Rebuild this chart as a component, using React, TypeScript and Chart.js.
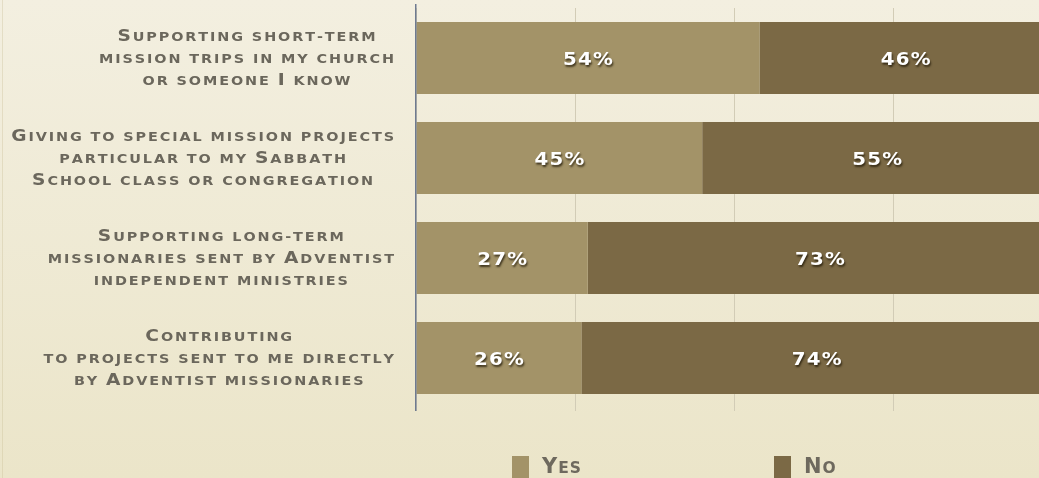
import { useEffect, useRef } from "react";
import { Chart, registerables } from "chart.js";

Chart.register(...registerables);

// ---- data ----
const categories: string[][] = [
  ["Supporting short-term", "mission trips in my church", "or someone I know"],
  ["Giving to special mission projects", "particular to my Sabbath", "School class or congregation"],
  ["Supporting long-term", "missionaries sent by Adventist", "independent ministries"],
  ["Contributing", "to projects sent to me directly", "by Adventist missionaries"],
];
const seriesNames = ["Yes", "No"];
const yesValues = [54, 45, 27, 26];
const noValues = [46, 55, 73, 74];
const xTickStep = 25;

// ---- style ----
const FAMILY = "'DejaVu Sans', 'Liberation Sans', sans-serif";
const YES_COLOR = "#a39368";
const NO_COLOR = "#7b6945";
const TEXT_GRAY = "#6b675c";

type Run = { ch: string; font: string };

function makeRuns(text: string, big: string, small: string): Run[] {
  const runs: Run[] = [];
  for (const ch of text) {
    const isBig = ch !== ch.toLowerCase();
    runs.push({ ch: ch.toUpperCase(), font: isBig ? big : small });
  }
  return runs;
}

function measureRuns(ctx: CanvasRenderingContext2D, runs: Run[], spacing: number, sx: number) {
  const widths: number[] = [];
  let total = 0;
  for (const r of runs) {
    ctx.font = r.font;
    const w = ctx.measureText(r.ch).width * sx;
    widths.push(w);
    total += w + spacing;
  }
  total -= spacing;
  return { widths, total };
}

function drawRuns(
  ctx: CanvasRenderingContext2D,
  runs: Run[],
  x: number,
  y: number,
  spacing: number,
  sx: number,
  align: "left" | "center"
) {
  const { widths, total } = measureRuns(ctx, runs, spacing, sx);
  let cx = align === "center" ? x - total / 2 : x;
  ctx.textAlign = "left";
  ctx.textBaseline = "alphabetic";
  runs.forEach((r, i) => {
    ctx.font = r.font;
    ctx.save();
    ctx.translate(cx, y);
    ctx.scale(sx, 1);
    ctx.fillText(r.ch, 0, 0);
    ctx.restore();
    cx += widths[i] + spacing;
  });
  return total;
}

const LABEL_BIG = `bold 15.5px ${FAMILY}`;
const LABEL_SMALL = `bold 12px ${FAMILY}`;
const LABEL_SPACING = 1.9;
const LABEL_SX = 1.2;
const LABEL_LINE = 22;
const LABEL_GAP = 22;

const backgroundPlugin = {
  id: "bgPlugin",
  beforeDraw(chart: any) {
    const { ctx, width, height } = chart;
    ctx.save();
    const g = ctx.createLinearGradient(0, 0, 0, height);
    g.addColorStop(0, "#f3efe0");
    g.addColorStop(1, "#ebe5c9");
    ctx.fillStyle = g;
    ctx.fillRect(0, 0, width, height);
    ctx.fillStyle = "rgba(200,190,150,0.35)";
    ctx.fillRect(2, 0, 1, height);
    ctx.restore();
  },
};

const yLabelPlugin = {
  id: "yLabels",
  afterDraw(chart: any) {
    const { ctx, chartArea } = chart;
    const yScale = chart.scales.y;
    ctx.save();
    ctx.fillStyle = TEXT_GRAY;
    categories.forEach((lines, i) => {
      const yc = yScale.getPixelForValue(i);
      const runsList = lines.map((l) => makeRuns(l, LABEL_BIG, LABEL_SMALL));
      const widest = Math.max(
        ...runsList.map((r) => measureRuns(ctx, r, LABEL_SPACING, LABEL_SX).total)
      );
      const cx = chartArea.left - LABEL_GAP - widest / 2;
      const n = lines.length;
      runsList.forEach((runs, j) => {
        const by = yc + 5 + (j - (n - 1) / 2) * LABEL_LINE;
        drawRuns(ctx, runs, cx, by, LABEL_SPACING, LABEL_SX, "center");
      });
    });
    ctx.restore();
  },
};

const valueLabelPlugin = {
  id: "valueLabels",
  afterDatasetsDraw(chart: any) {
    const { ctx } = chart;
    ctx.save();
    const font = `bold 18px ${FAMILY}`;
    chart.data.datasets.forEach((ds: any, di: number) => {
      const meta = chart.getDatasetMeta(di);
      meta.data.forEach((bar: any, i: number) => {
        const cx = (bar.x + bar.base) / 2;
        const cy = bar.y;
        const runs = makeRuns(`${ds.data[i]}%`, font, font);
        ctx.shadowColor = "rgba(30,22,5,0.75)";
        ctx.shadowOffsetX = 1;
        ctx.shadowOffsetY = 2;
        ctx.shadowBlur = 2;
        ctx.fillStyle = "#ffffff";
        drawRuns(ctx, runs, cx, cy + 7, 1.2, 1.1, "center");
      });
    });
    ctx.restore();
  },
};

const axisLinePlugin = {
  id: "axisLine",
  afterDatasetsDraw(chart: any) {
    const { ctx, chartArea } = chart;
    ctx.save();
    ctx.strokeStyle = "#6e7a90";
    ctx.lineWidth = 1.5;
    ctx.beginPath();
    ctx.moveTo(chartArea.left - 0.25, chartArea.top - 4);
    ctx.lineTo(chartArea.left - 0.25, chartArea.bottom + 3);
    ctx.stroke();
    ctx.restore();
  },
};

const LEGEND_OFFSETS = [96, 358];
const legendPlugin = {
  id: "customLegend",
  afterDraw(chart: any) {
    const { ctx, chartArea } = chart;
    ctx.save();
    const big = `bold 21px ${FAMILY}`;
    const small = `bold 15.5px ${FAMILY}`;
    chart.data.datasets.forEach((ds: any, i: number) => {
      const x = chartArea.left + LEGEND_OFFSETS[i];
      ctx.fillStyle = ds.backgroundColor;
      ctx.fillRect(x, 456, 17, 30);
      ctx.fillStyle = "#6e695e";
      drawRuns(ctx, makeRuns(ds.label, big, small), x + 30, 473, 1.0, 1.0, "left");
    });
    ctx.restore();
  },
};

export default function App() {
  const canvasRef = useRef<HTMLCanvasElement | null>(null);

  useEffect(() => {
    document.body.style.margin = "0";
    const canvas = canvasRef.current;
    if (!canvas) return;
    const chart = new Chart(canvas, {
      type: "bar",
      data: {
        labels: categories.map((c) => c.join(" ")),
        datasets: [
          {
            label: seriesNames[0],
            data: yesValues,
            backgroundColor: YES_COLOR,
            borderWidth: 0,
            barPercentage: 0.72,
            categoryPercentage: 1,
          },
          {
            label: seriesNames[1],
            data: noValues,
            backgroundColor: NO_COLOR,
            borderWidth: 0,
            barPercentage: 0.72,
            categoryPercentage: 1,
          },
        ],
      },
      options: {
        indexAxis: "y",
        responsive: false,
        animation: false,
        layout: { padding: { left: 416, top: 8, right: 1, bottom: 67 } },
        plugins: {
          legend: { display: false },
          tooltip: { enabled: false },
        },
        scales: {
          x: {
            stacked: true,
            min: 0,
            max: 100,
            ticks: { display: false, stepSize: xTickStep },
            grid: { color: "#d2ccb6", lineWidth: 1, tickLength: 3, drawTicks: true },
            border: { display: false },
          },
          y: {
            stacked: true,
            display: false,
          },
        },
      },
      plugins: [backgroundPlugin, valueLabelPlugin, axisLinePlugin, yLabelPlugin, legendPlugin],
    });
    return () => chart.destroy();
  }, []);

  return (
    <div style={{ position: "fixed", left: 0, top: 0, width: 1039, height: 478, overflow: "hidden", background: "#efead4" }}>
      <canvas ref={canvasRef} width={1053} height={478} style={{ display: "block" }} />
    </div>
  );
}
